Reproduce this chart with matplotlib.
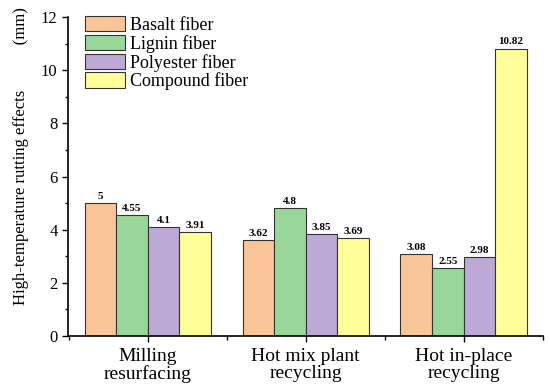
import matplotlib
matplotlib.use("Agg")
import matplotlib.pyplot as plt
import numpy as np
from matplotlib.ticker import MultipleLocator, FixedLocator

plt.rcParams['font.family'] = ['Liberation Serif', 'DejaVu Serif']

categories = ["Milling\nresurfacing", "Hot mix plant\nrecycling", "Hot in-place\nrecycling"]
series_names = ["Basalt fiber", "Lignin fiber", "Polyester fiber", "Compound fiber"]
basalt = [5, 3.62, 3.08]
lignin = [4.55, 4.8, 2.55]
polyester = [4.1, 3.85, 2.98]
compound = [3.91, 3.69, 10.82]
colors = ["#FBC697", "#99D69A", "#BDA9D6", "#FFFF99"]

fig = plt.figure(figsize=(5.5, 3.9), dpi=100)
ax = fig.add_axes([0.1236, 0.1385, 0.863, 0.8175])

x = np.arange(len(categories))
w = 0.2
all_series = [basalt, lignin, polyester, compound]
for i, (vals, name, c) in enumerate(zip(all_series, series_names, colors)):
    pos = x + (i - 1.5) * w
    ax.bar(pos, vals, width=w, color=c, edgecolor="#333333", linewidth=0.8, label=name)
    for p, v in zip(pos, vals):
        ax.text(p, v + 0.08, f"{v:g}", ha="center", va="bottom", fontsize=8, fontweight="bold")

ax.set_xlim(-0.505, 2.5)
ax.set_ylim(0, 12)
ax.yaxis.set_major_locator(MultipleLocator(2))
ax.yaxis.set_minor_locator(MultipleLocator(1))
ax.set_xticks(x)
ax.set_xticklabels(categories, fontsize=14, linespacing=0.95)
ax.xaxis.set_minor_locator(FixedLocator([-0.5, 0.5, 1.5, 2.5]))
ax.tick_params(axis='y', labelsize=12, direction='out', length=4, width=1)
ax.tick_params(axis='y', which='minor', length=2.5, width=1)
ax.tick_params(axis='x', which='major', length=4, width=1, pad=5)
ax.tick_params(axis='x', which='minor', length=3, width=1)
ax.spines['top'].set_visible(False)
ax.spines['right'].set_visible(False)
ax.spines['left'].set_linewidth(1.2)
ax.spines['bottom'].set_linewidth(1.2)

ax.set_ylabel("High-temperature rutting effects" + " " * 11 + "(mm)", fontsize=12)
ax.yaxis.set_label_coords(-0.082, 0.563)

ax.legend(loc="upper left", bbox_to_anchor=(0.032, 1.01), frameon=False, fontsize=13,
          handlelength=2.2, handleheight=0.95, labelspacing=0.05, handletextpad=0.3,
          borderaxespad=0.0, borderpad=0.1)

fig.savefig("out.png", dpi=100)
